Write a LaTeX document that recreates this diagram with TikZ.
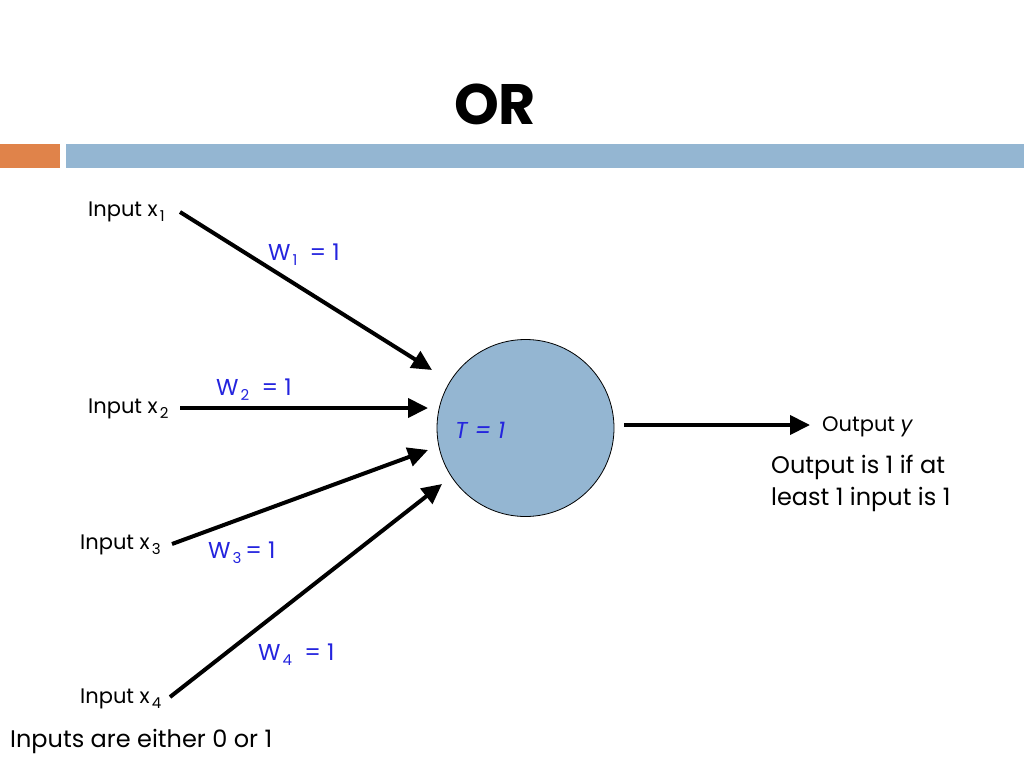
\documentclass[tikz,border=0pt]{standalone}
\usepackage{fontspec}
\setmainfont{Poppins}
\usetikzlibrary{arrows.meta}
\definecolor{barblue}{RGB}{148,182,210}
\definecolor{barorange}{RGB}{224,131,74}
\definecolor{wblue}{RGB}{36,36,222}
\newcommand{\lowsub}[1]{\kern2pt\raisebox{-5pt}{\fontsize{15}{15}\selectfont #1}}
\tikzset{
  lbl/.style={anchor=base west, inner sep=0pt, font=\fontsize{21}{25}\selectfont},
  wlbl/.style={anchor=base west, inner sep=0pt, text=wblue, font=\fontsize{23}{27}\selectfont},
  big/.style={anchor=base west, inner sep=0pt, font=\fontsize{24}{28}\selectfont},
  conn/.style={line width=4pt, -{Triangle[length=20pt,width=19pt]}},
}
\begin{document}
\begin{tikzpicture}[x=1pt,y=-1pt]
\useasboundingbox (0,0) rectangle (1024,768);
% header bars
\fill[barorange] (0,144) rectangle (60,168);
\fill[barblue] (66,144) rectangle (1024,168);
\node[anchor=base, inner sep=0pt, font=\fontsize{57}{60}\selectfont\bfseries] (title) at (495,124) {OR};
% neuron
\node[circle, draw=black, line width=0.8pt, fill=barblue, minimum size=177pt, inner sep=0pt] (neuron) at (525.5,428) {};
\node[anchor=base west, inner sep=0pt, text=wblue, font=\fontsize{23}{27}\selectfont\itshape] (T) at (455,438) {T = 1};
% labels
\node[lbl] (x1) at (88,216) {Input x\lowsub{1}};
\node[lbl] (x2) at (88,413) {Input x\lowsub{2}};
\node[lbl] (x3) at (80,549) {Input x\lowsub{3}};
\node[lbl] (x4) at (80,703) {Input x\lowsub{4}};
\node[wlbl] (w1) at (268,260) {W\lowsub{1}\ \ = 1};
\node[wlbl] (w2) at (216,395) {W\lowsub{2}\ \ = 1};
\node[wlbl] (w3) at (208,558) {W\lowsub{3}\,= 1};
\node[wlbl] (w4) at (258,660) {W\lowsub{4}\ \ = 1};
\node[lbl] (outy) at (822,431) {Output \textit{y}};
\node[big] (note1) at (771,473) {Output is 1 if at};
\node[big] (note2) at (771,505) {least 1 input is 1};
\node[big] (inputs) at (10,747) {Inputs are either 0 or 1};
% connector ends
\coordinate (s1) at (180,212);
\coordinate (e1) at (432,370);
\coordinate (s2) at (180,408);
\coordinate (e2) at (428,408);
\coordinate (s3) at (172,544);
\coordinate (e3) at (428,450);
\coordinate (s4) at (170,697);
\coordinate (e4) at (442,484);
\coordinate (so) at (624,425);
\coordinate (eo) at (810,425);
\draw[conn] (s1) -- (e1);
\draw[conn] (s2) -- (e2);
\draw[conn] (s3) -- (e3);
\draw[conn] (s4) -- (e4);
\draw[conn] (so) -- (eo);
\end{tikzpicture}
\end{document}
